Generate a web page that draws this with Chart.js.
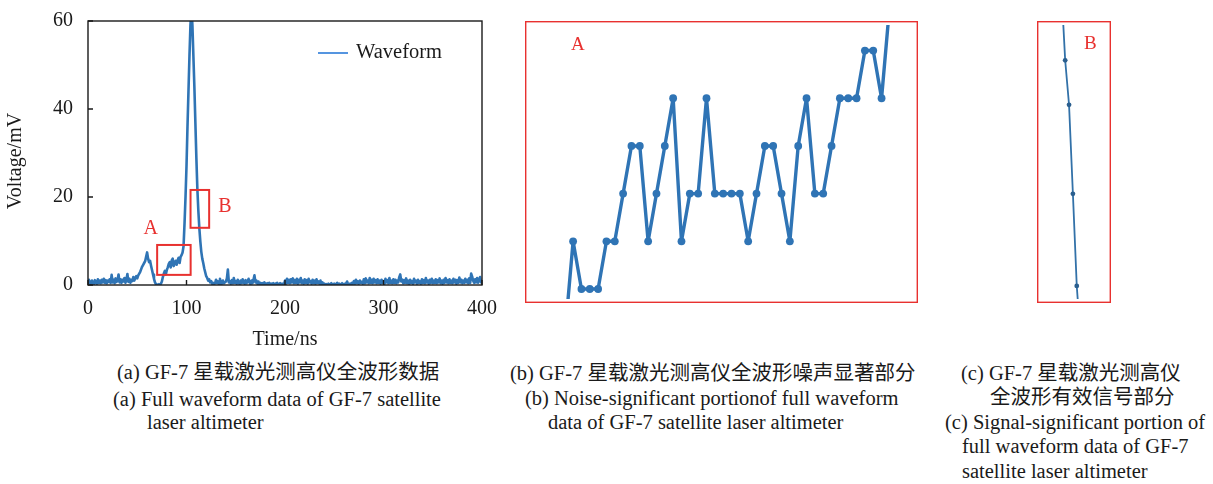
<!DOCTYPE html>
<html>
<head>
<meta charset="utf-8">
<script src="https://cdn.jsdelivr.net/npm/chart.js@4.4.1/dist/chart.umd.min.js"></script>
<style>
  html, body { margin: 0; padding: 0; background: #fff; }
  body { width: 1213px; height: 484px; position: relative; overflow: hidden;
         font-family: "Liberation Serif", "Noto Sans CJK SC", serif; color: #1a1a1a; }
  canvas { position: absolute; }
  .cap { position: absolute; white-space: nowrap; font-size: 20.5px; line-height: 24px; }
  .tag { position: absolute; color: #e8312f; font-size: 19px; line-height: 20px; }
</style>
</head>
<body>
<canvas id="full" width="500" height="355" style="left:0;top:0"></canvas>
<canvas id="noise" width="393" height="282" style="left:525px;top:21px"></canvas>
<canvas id="signal" width="74" height="282" style="left:1037px;top:21px"></canvas>

<div class="tag" style="left:571px;top:34px">A</div>
<div class="tag" style="left:1084px;top:33px">B</div>

<div class="cap" style="left:117px;top:360px">(a) GF-7 星载激光测高仪全波形数据</div>
<div class="cap" style="left:113px;top:387px">(a) Full waveform data of GF-7 satellite</div>
<div class="cap" style="left:147px;top:410px">laser altimeter</div>

<div class="cap" style="left:510px;top:361px">(b) GF-7 星载激光测高仪全波形噪声显著部分</div>
<div class="cap" style="left:525px;top:386px">(b) Noise-significant portionof full waveform</div>
<div class="cap" style="left:548px;top:410px">data of GF-7 satellite laser altimeter</div>

<div class="cap" style="left:961px;top:361px">(c) GF-7 星载激光测高仪</div>
<div class="cap" style="left:990px;top:385px">全波形有效信号部分</div>
<div class="cap" style="left:945px;top:410px">(c) Signal-significant portion of</div>
<div class="cap" style="left:962px;top:434px">full waveform data of GF-7</div>
<div class="cap" style="left:962px;top:459px">satellite laser altimeter</div>

<script>
// ---- Full waveform, one sample per nanosecond (0 … 400 ns), voltage in mV ----
const SAMPLE_NS = 1;
const voltage = [
  1.2,0.4,0.8,0.3,1.0,0.5,0.2,1.1,0.6,0.3, 1.3,0.5,1.0,0.4,1.2,0.6,1.4,0.5,1.1,0.4,
  1.0,0.7,1.3,0.5,2.3,0.6,1.2,0.4,1.5,0.7, 1.1,2.4,0.6,1.3,0.5,1.2,0.8,1.6,0.5,1.3,
  2.5,0.7,1.4,0.5,1.2,0.9,1.8,1.0,1.6,2.0, 1.5,2.2,2.6,3.0,3.6,4.2,4.6,5.0,5.4,6.4,
  7.4,6.0,5.2,5.5,4.4,3.4,2.4,1.4,0.6,0.2, 0.1,0.0,0.2,0.0,0.3,0.8,1.8,2.6,3.2,2.4,
  3.4,4.0,4.8,5.2,4.0,5.6,6.0,4.3,5.0,5.5, 4.6,5.6,6.2,5.0,6.4,6.8,7.4,8.8,14,20,
  27,36,44,52,59,63,59,52,45,37, 29,22,17,13,10,7.6,6.0,5.0,3.8,2.9,
  2.0,1.6,1.0,1.3,0.6,0.9,0.3,0.5,0.2,0.4, 1.2,0.4,0.8,0.2,1.4,0.5,0.3,1.0,0.4,0.6,
  0.8,1.5,3.5,0.6,0.9,0.3,1.1,0.4,1.6,0.5, 0.9,0.3,1.2,0.5,0.2,1.0,0.4,1.3,0.6,0.3,
  1.1,0.4,0.8,1.4,0.5,0.2,1.0,0.4,1.2,2.2, 0.6,1.0,0.3,0.8,0.2,0.5,0.1,0.4,0.2,0.6,
  0.3,0.1,0.4,0.2,0.5,0.1,0.3,0.2,0.4,0.1, 0.3,0.2,0.5,0.1,0.2,0.4,0.1,0.3,0.2,0.1,
  1.0,0.3,1.4,0.5,1.2,0.4,1.3,0.6,1.5,0.4, 1.1,0.5,1.4,0.3,1.2,0.6,1.6,0.4,1.0,0.3,
  1.3,0.5,1.1,0.3,1.4,0.6,0.9,0.3,1.2,0.4, 1.0,0.3,1.3,0.5,0.8,0.3,1.0,0.2,0.6,0.2,
  0.3,0.1,0.2,0.0,0.3,0.1,0.2,0.4,0.1,0.2, 0.3,0.1,0.2,0.5,0.1,0.3,0.2,0.1,0.4,0.2,
  0.1,0.3,0.2,0.8,0.2,0.1,0.3,0.2,0.5,0.3, 0.9,0.3,1.2,0.4,0.8,0.3,1.0,0.5,0.7,0.3,
  1.3,0.4,1.5,0.6,1.0,0.4,1.6,0.5,1.2,0.4, 1.4,0.6,1.1,0.4,1.3,0.5,1.0,0.3,1.2,0.5,
  0.9,0.3,1.4,0.6,1.1,0.4,1.6,0.5,1.0,0.4, 1.3,0.5,1.2,0.4,1.0,0.6,1.8,2.4,0.8,1.2,
  0.4,1.1,0.5,1.5,0.4,1.0,0.3,1.2,0.5,0.9, 0.3,1.4,0.6,1.0,0.3,1.2,0.5,0.8,0.3,1.3,
  0.5,1.1,0.4,1.6,0.6,1.0,0.3,1.2,0.5,1.4, 0.4,1.0,0.5,1.3,0.4,1.1,0.6,1.5,0.4,1.0,
  0.3,1.2,0.5,1.6,0.6,1.1,0.4,1.3,0.5,1.0, 0.4,1.4,0.6,1.2,0.3,1.1,0.5,1.7,0.6,1.2,
  0.4,1.0,0.5,1.4,0.6,1.2,0.4,1.5,0.5,2.6, 1.9,1.0,0.5,1.3,0.6,1.6,0.5,1.2,1.8,0.6,
  1.2
];
const timeTicks = [0, 100, 200, 300, 400];
const voltTicks = [0, 20, 40, 60];

// Highlighted regions on the full waveform: [t0, t1] ns × [v0, v1] mV
const regionA = { t0: 70.2, t1: 104.2, v0: 2.3, v1: 9.1, label: 'A', lt: 63.8, lv: 12.7 };
const regionB = { t0: 104.1, t1: 123.0, v0: 13.0, v1: 21.6, label: 'B', lt: 139, lv: 17.8 };

// ---- Noise-dominated stretch (region A), consecutive samples, mV ----
const noiseVolt = [
  2, 4, 3, 3, 3, 4, 4, 5, 6, 6,
  4, 5, 6, 7, 4, 5, 5, 7, 5, 5,
  5, 5, 4, 5, 6, 6, 5, 4, 6, 7,
  5, 5, 6, 7, 7, 7, 8, 8, 7, 9
];

// ---- Signal flank (region B), consecutive samples, mV ----
const signalSample = [-1, 0, 1, 2, 3, 4];
const signalVolt = [23.3, 21.0, 19.6, 16.8, 13.9, 12.2];

const BLUE = '#2f74b5';
const RED = '#e8312f';
const SERIF = "'Liberation Serif', 'Times New Roman', serif";
Chart.defaults.font.family = SERIF;
Chart.defaults.color = '#1a1a1a';

// Frame, inward tick marks, legend, axis title and region boxes of the full-waveform panel
const fullDecor = {
  id: 'fullDecor',
  afterDraw(chart) {
    const { ctx, chartArea: a, scales: { x, y } } = chart;
    ctx.save();
    ctx.strokeStyle = '#1a1a1a';
    ctx.lineWidth = 1.4;
    ctx.strokeRect(a.left, a.top, a.right - a.left, a.bottom - a.top);
    ctx.beginPath();
    timeTicks.forEach(t => {
      const px = x.getPixelForValue(t);
      ctx.moveTo(px, a.bottom); ctx.lineTo(px, a.bottom - 5);
    });
    voltTicks.forEach(v => {
      const py = y.getPixelForValue(v);
      ctx.moveTo(a.left, py); ctx.lineTo(a.left + 5, py);
    });
    ctx.stroke();

    // region boxes
    ctx.strokeStyle = RED;
    ctx.lineWidth = 2;
    ctx.fillStyle = RED;
    ctx.font = '20px ' + SERIF;
    ctx.textAlign = 'center';
    ctx.textBaseline = 'middle';
    [regionA, regionB].forEach(r => {
      const x0 = x.getPixelForValue(r.t0), x1 = x.getPixelForValue(r.t1);
      const y0 = y.getPixelForValue(r.v0), y1 = y.getPixelForValue(r.v1);
      ctx.strokeRect(x0, y1, x1 - x0, y0 - y1);
      ctx.fillText(r.label, x.getPixelForValue(r.lt), y.getPixelForValue(r.lv));
    });

    // legend
    ctx.strokeStyle = '#2a7ad8';
    ctx.lineWidth = 1.6;
    ctx.beginPath();
    ctx.moveTo(318, 53); ctx.lineTo(348, 53);
    ctx.stroke();
    ctx.fillStyle = '#1a1a1a';
    ctx.textAlign = 'left';
    ctx.font = '20.5px ' + SERIF;
    ctx.fillText(chart.data.datasets[0].label, 356, 53);

    // y-axis title
    ctx.translate(15.5, 161);
    ctx.rotate(-Math.PI / 2);
    ctx.textAlign = 'center';
    ctx.font = '20px ' + SERIF;
    ctx.fillText('Voltage/mV', 0, 0);
    ctx.restore();
  }
};

new Chart(document.getElementById('full'), {
  type: 'line',
  data: {
    datasets: [{
      label: 'Waveform',
      data: voltage.map((v, i) => ({ x: i * SAMPLE_NS, y: v })),
      borderColor: BLUE,
      borderWidth: 2.6,
      borderJoinStyle: 'round',
      pointRadius: 0,
      tension: 0
    }]
  },
  options: {
    responsive: false,
    animation: false,
    devicePixelRatio: 1,
    layout: { padding: { top: 21, right: 18, left: 0, bottom: 0 } },
    plugins: { legend: { display: false }, tooltip: { enabled: false } },
    scales: {
      x: {
        type: 'linear', min: 0, max: 400,
        afterBuildTicks: s => { s.ticks = timeTicks.map(v => ({ value: v })); },
        afterFit: s => { s.height = 70; s.paddingLeft = 0; s.paddingRight = 0; },
        grid: { display: false, drawTicks: false },
        border: { display: false },
        ticks: { padding: 12, font: { size: 20 }, color: '#1a1a1a', maxRotation: 0 },
        title: { display: true, text: 'Time/ns', font: { size: 20 }, color: '#1a1a1a', padding: { bottom: 3, top: 0 } }
      },
      y: {
        type: 'linear', min: 0, max: 60,
        afterBuildTicks: s => { s.ticks = voltTicks.map(v => ({ value: v })); },
        afterFit: s => { s.width = 88; s.paddingTop = 0; s.paddingBottom = 0; },
        grid: { display: false, drawTicks: false },
        border: { display: false },
        ticks: { padding: 15, font: { size: 20 }, color: '#1a1a1a' }
      }
    }
  },
  plugins: [fullDecor]
});

// Red outline around an inset panel
const insetFrame = {
  id: 'insetFrame',
  afterDraw(chart) {
    const { ctx, width, height } = chart;
    ctx.save();
    ctx.strokeStyle = RED;
    ctx.lineWidth = 1.4;
    ctx.strokeRect(0.7, 0.7, width - 1.4, height - 1.4);
    ctx.restore();
  }
};

function insetOptions(xMin, xMax, yMin, yMax) {
  return {
    responsive: false,
    animation: false,
    devicePixelRatio: 1,
    layout: { padding: 0 },
    plugins: { legend: { display: false }, tooltip: { enabled: false } },
    scales: {
      x: { type: 'linear', display: false, min: xMin, max: xMax },
      y: { type: 'linear', display: false, min: yMin, max: yMax }
    }
  };
}

new Chart(document.getElementById('noise'), {
  type: 'line',
  data: {
    datasets: [{
      data: noiseVolt.map((v, i) => ({ x: i, y: v })),
      borderColor: BLUE,
      backgroundColor: BLUE,
      borderWidth: 3.4,
      borderJoinStyle: 'round',
      borderCapStyle: 'round',
      pointRadius: 3.9,
      pointBorderWidth: 0,
      pointBackgroundColor: BLUE,
      tension: 0
    }]
  },
  options: insetOptions(-4.29, 41.89, 2.79, 8.536),
  plugins: [insetFrame]
});

new Chart(document.getElementById('signal'), {
  type: 'line',
  data: {
    datasets: [{
      data: signalVolt.map((v, i) => ({ x: signalSample[i], y: v })),
      borderColor: '#3271a8',
      backgroundColor: '#2b5f8f',
      borderWidth: 1.8,
      borderJoinStyle: 'round',
      pointRadius: 2.4,
      pointBorderWidth: 0,
      pointBackgroundColor: '#2b5f8f',
      tension: 0
    }]
  },
  options: insetOptions(-6.26, 10.83, 13.49, 22.11),
  plugins: [insetFrame]
});
</script>
</body>
</html>
